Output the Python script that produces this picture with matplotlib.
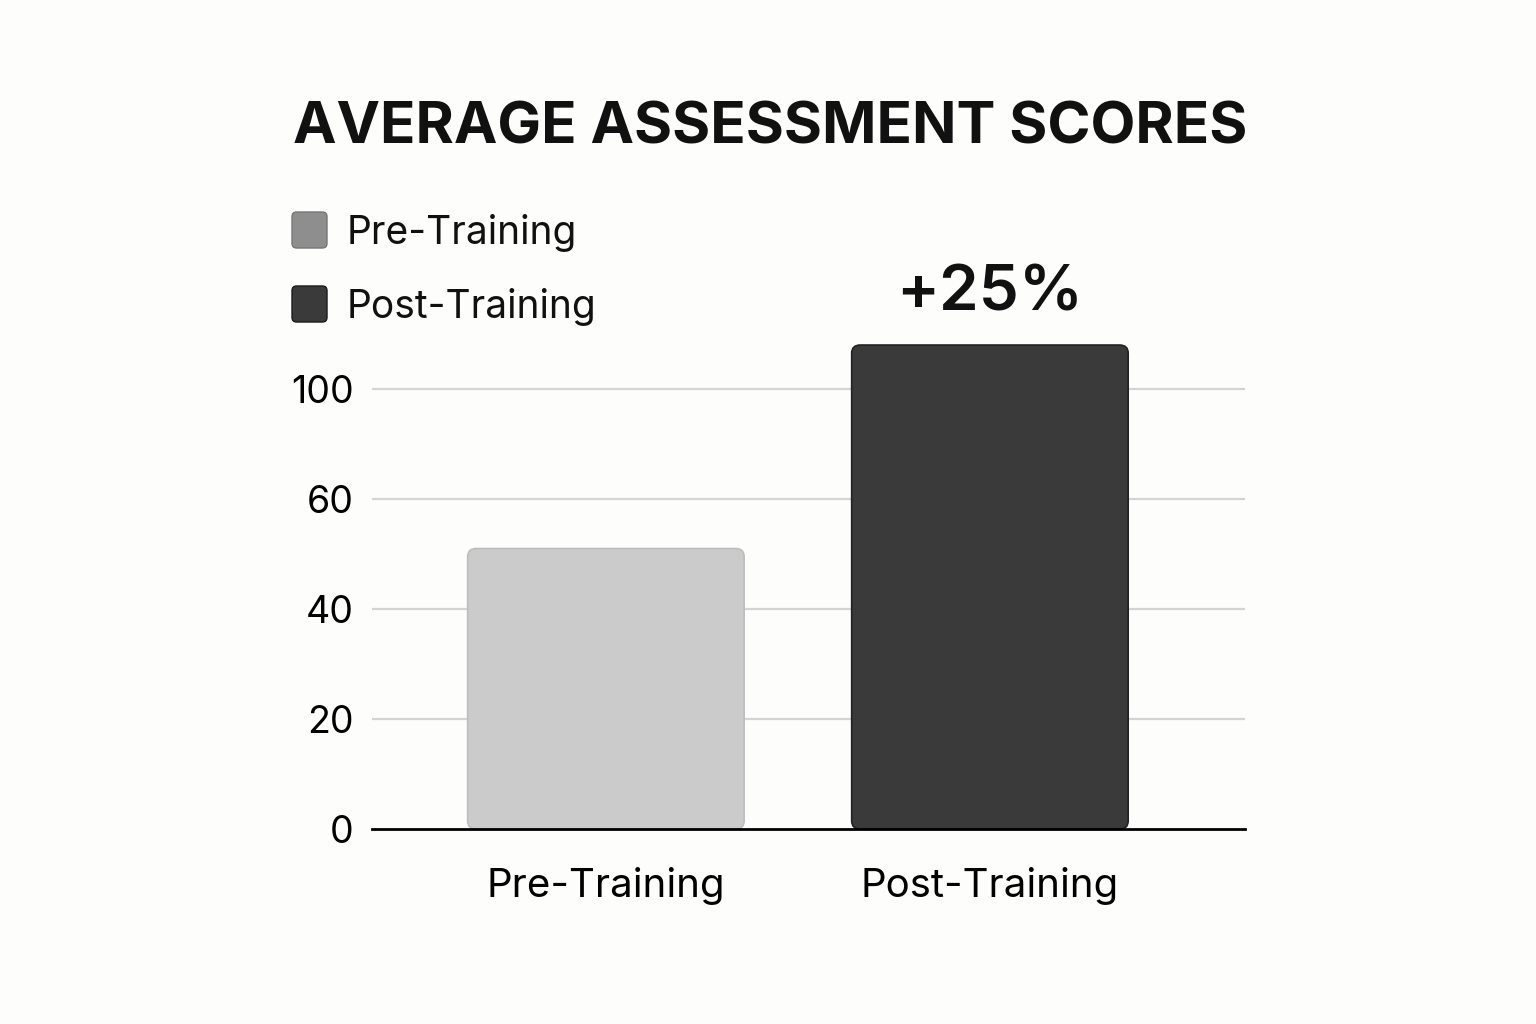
import numpy as np
import matplotlib
matplotlib.use("Agg")
import matplotlib.pyplot as plt
from matplotlib.patches import FancyBboxPatch

plt.rcParams['font.family'] = ['Inter', 'DejaVu Sans']

categories = ['Pre-Training', 'Post-Training']
scores = [51, 88]
bar_colors = ['#cbcbcb', '#3a3a3a']
legend_colors = ['#8e8e8e', '#3a3a3a']
tick_pos = [0, 20, 40, 60, 80]
tick_labels = ['0', '20', '40', '60', '100']
change_label = '+25%'
title = 'AVERAGE ASSESSMENT SCORES'

bg = '#fdfdfb'
fig = plt.figure(figsize=(15.36, 10.24), dpi=100, facecolor=bg)
ax = fig.add_axes([0.2422, 0.1904, 0.5683, 0.4834])
ax.set_facecolor(bg)

x = np.arange(len(categories))
bars = ax.bar(x, scores, width=0.72, color=bar_colors, zorder=3)

# swap plain bars for rounded ones
for b, c in zip(bars, bar_colors):
    b.set_visible(False)
    rb = FancyBboxPatch((b.get_x(), 0), b.get_width(), b.get_height(),
                        boxstyle='round,pad=0,rounding_size=0.022',
                        mutation_aspect=68, facecolor=c,
                        edgecolor='#bdbdbd' if c == '#cbcbcb' else '#222222',
                        linewidth=1.2, zorder=3)
    ax.add_patch(rb)

ax.set_xlim(-0.609, 1.664)
ax.set_ylim(0, 90)
ax.set_yticks(tick_pos)
ax.set_yticklabels(tick_labels)
ax.set_xticks(x)
ax.set_xticklabels(categories)
ax.tick_params(axis='y', length=0, pad=13, labelsize=27)
ax.tick_params(axis='x', length=0, pad=27, labelsize=29)
for s in ['top', 'right', 'left']:
    ax.spines[s].set_visible(False)
ax.spines['bottom'].set_linewidth(2)
ax.spines['bottom'].set_zorder(4)
for t in tick_pos[1:]:
    ax.axhline(t, color='#d4d4d4', linewidth=1.6, zorder=1)

ax.text(x[1], scores[1] + 4.0, change_label, ha='center', va='bottom',
        fontsize=46, fontweight='semibold', color='#111111')

fig.text(0.5013, 0.875, title, ha='center', va='center',
         fontsize=42, fontweight='bold', color='#111111')

# legend
for i, (lab, c) in enumerate(zip(categories, legend_colors)):
    yc = 1 - (230 + 74 * i) / 1024
    sq = FancyBboxPatch((292 / 1536, yc - 18 / 1024), 35 / 1536, 36 / 1024,
                        boxstyle='round,pad=0,rounding_size=0.003',
                        mutation_aspect=1.5, transform=fig.transFigure,
                        facecolor=c, edgecolor='#777777' if i == 0 else '#1a1a1a',
                        linewidth=1)
    fig.patches.append(sq)
    fig.text(347 / 1536, yc - 3 / 1024, lab, ha='left', va='center', fontsize=28, color='#111111')

fig.savefig('out.png', dpi=100, facecolor=bg)
